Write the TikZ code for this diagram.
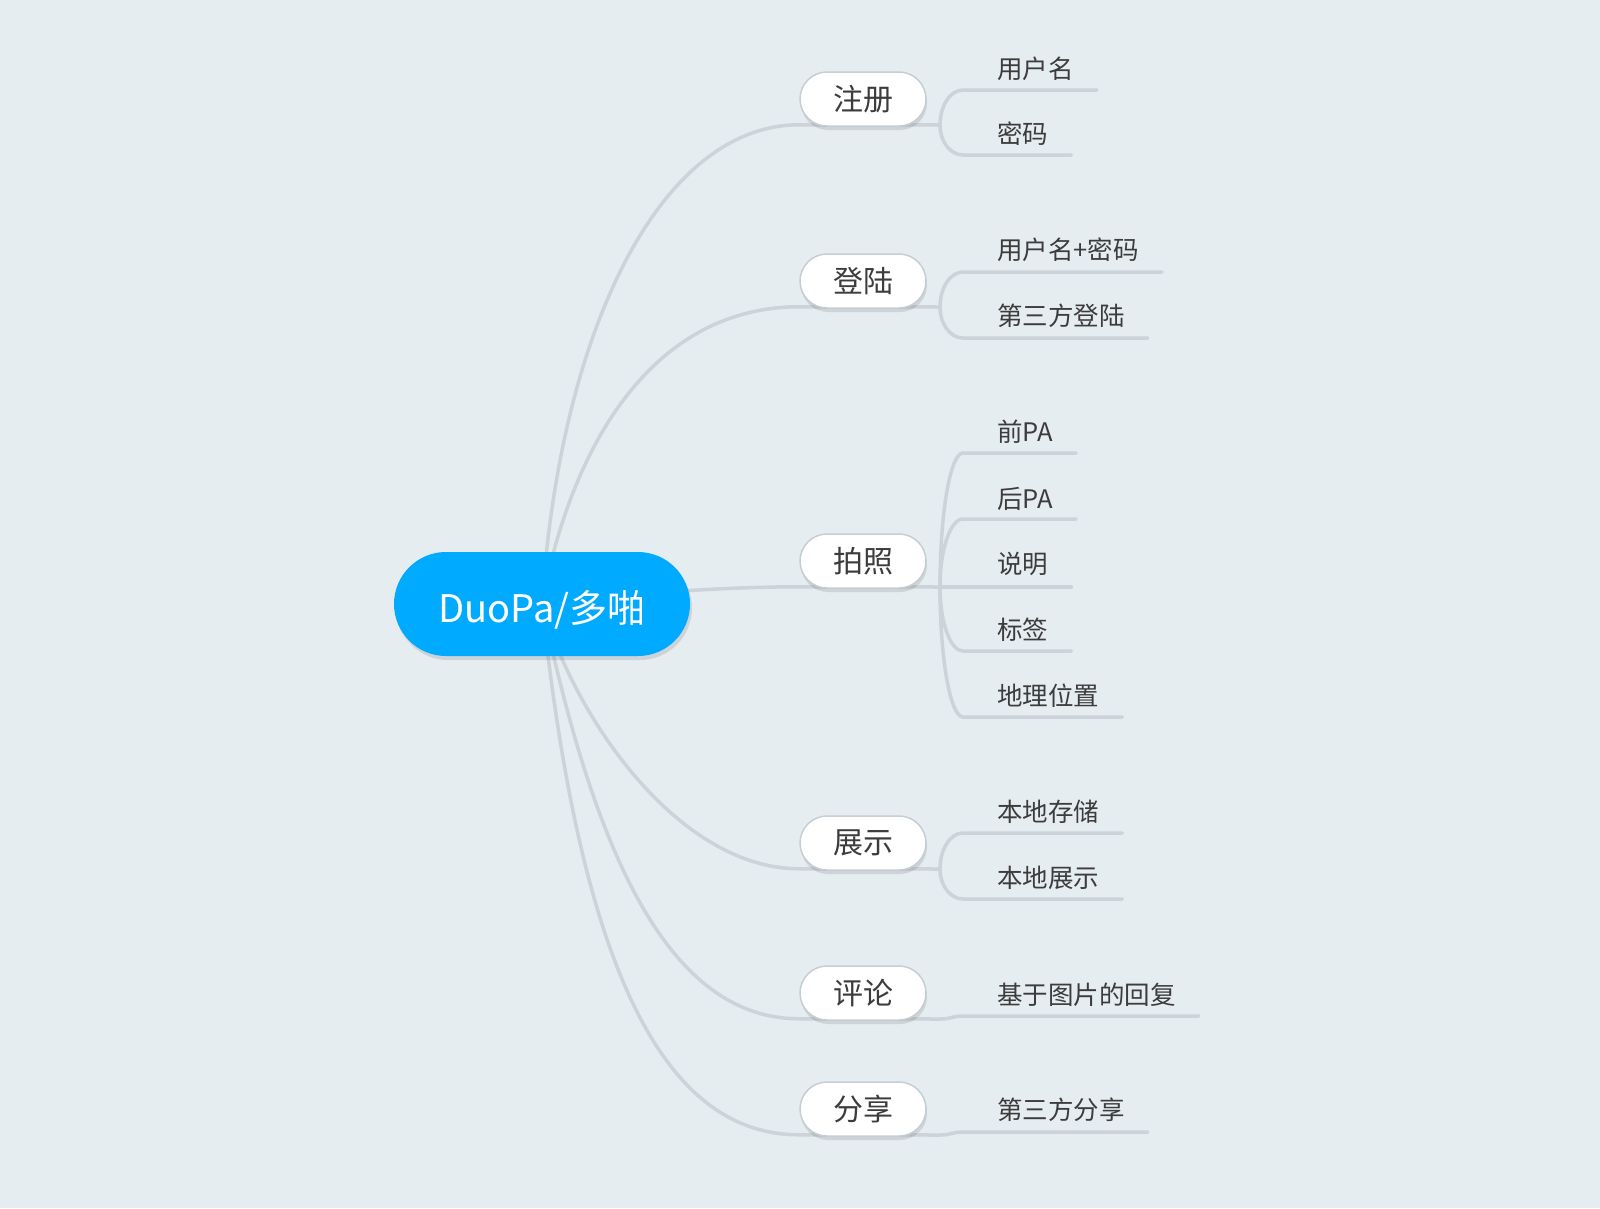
\documentclass[tikz,border=0pt]{standalone}
\usepackage{fontspec}
\setmainfont{Noto Sans CJK SC}
\usetikzlibrary{shadows,backgrounds}
\definecolor{bgc}{HTML}{E6EDF1}
\definecolor{linec}{HTML}{CCD4D9}
\definecolor{borderc}{HTML}{C6CED3}
\definecolor{txtc}{HTML}{3C3C3C}
\definecolor{rootc}{HTML}{00AAFF}
\newcommand{\mmkid}[4]{\draw[conn] (#1) .. controls (940,{#2+0.5523*(#3-#2)}) and (950.3,#3) .. (963,#3) -- (#4.east |- 963,#3);}
\newcommand{\mmone}[4]{\draw[conn] (#1) .. controls (952,#2) and (951,#3) .. (963,#3) -- (#4.east |- 963,#3);}
\newcommand{\mmpad}{\rule{23pt}{0pt}}
\begin{document}
\begin{tikzpicture}[x=1pt,y=-1pt,
  conn/.style={draw=linec, line width=3.5pt, line cap=round},
  rootbox/.style={fill=rootc, rounded corners=52pt, minimum width=296pt, minimum height=104pt, inner sep=0pt,
    font=\fontsize{38}{44}\selectfont, text=white, text height=38pt, text depth=1.6pt,
    drop shadow={shadow xshift=2pt, shadow yshift=-4pt, opacity=0.16, fill=black!70}},
  mainbox/.style={draw=borderc, line width=1.5pt, fill=white, rounded corners=27pt, minimum width=126pt, minimum height=54pt, inner sep=0pt,
    font=\fontsize{30}{36}\selectfont, text=txtc,
    drop shadow={shadow xshift=1pt, shadow yshift=-4pt, opacity=0.16, fill=black!70}},
  leaf/.style={anchor=west, inner sep=0pt, font=\fontsize{25.5}{30}\selectfont, text=txtc}]
\useasboundingbox (0,0) rectangle (1600,1208);

% nodes
\node[rootbox] (root) at (542,604) {DuoPa/多啪};
\node[mainbox] (n1) at (863,99) {注册};
\node[mainbox] (n2) at (863,281) {登陆};
\node[mainbox] (n3) at (863,561) {拍照};
\node[mainbox] (n4) at (863,843) {展示};
\node[mainbox] (n5) at (863,993) {评论};
\node[mainbox] (n6) at (863,1109) {分享};

\node[leaf] (l11) at (997,69) {用户名\mmpad};
\node[leaf] (l12) at (997,134) {密码\mmpad};
\node[leaf] (l21) at (997,250) {用户名+密码\mmpad};
\node[leaf] (l22) at (997,316) {第三方登陆\mmpad};
\node[leaf] (l31) at (997,432) {前PA\mmpad};
\node[leaf] (l32) at (997,499) {后PA\mmpad};
\node[leaf] (l33) at (997,564) {说明\mmpad};
\node[leaf] (l34) at (997,630) {标签\mmpad};
\node[leaf] (l35) at (997,696) {地理位置\mmpad};
\node[leaf] (l41) at (997,812) {本地存储\mmpad};
\node[leaf] (l42) at (997,878) {本地展示\mmpad};
\node[leaf] (l51) at (997,995) {基于图片的回复\mmpad};
\node[leaf] (l61) at (997,1110) {第三方分享\mmpad};

\coordinate (b1) at (940,125);
\coordinate (b2) at (940,307);
\coordinate (b3) at (940,587);
\coordinate (b4) at (940,869);
\coordinate (b5) at (940,1019);
\coordinate (b6) at (940,1135);

\begin{scope}[on background layer]
\fill[bgc] (0,0) rectangle (1600,1208);
\draw[conn] (root.center) .. controls (560,330) and (660,125) .. ([yshift=2pt]n1.south west) -- (b1);
\draw[conn] (root.center) .. controls (570,450) and (650,307) .. ([yshift=2pt]n2.south west) -- (b2);
\draw[conn] (root.center) .. controls (620,594) and (720,587) .. ([yshift=2pt]n3.south west) -- (b3);
\draw[conn] (root.center) .. controls (575,720) and (680,869) .. ([yshift=2pt]n4.south west) -- (b4);
\draw[conn] (root.center) .. controls (590,830) and (660,1019) .. ([yshift=2pt]n5.south west) -- (b5);
\draw[conn] (root.center) .. controls (580,960) and (660,1135) .. ([yshift=2pt]n6.south west) -- (b6);

\mmkid{b1}{125}{90}{l11}
\mmkid{b1}{125}{155}{l12}
\mmkid{b2}{307}{272}{l21}
\mmkid{b2}{307}{338}{l22}
\mmkid{b3}{587}{453}{l31}
\mmkid{b3}{587}{519}{l32}
\mmkid{b3}{587}{587}{l33}
\mmkid{b3}{587}{651}{l34}
\mmkid{b3}{587}{717}{l35}
\mmkid{b4}{869}{833}{l41}
\mmkid{b4}{869}{899}{l42}
\mmone{b5}{1019}{1016}{l51}
\mmone{b6}{1135}{1132}{l61}
\end{scope}
\end{tikzpicture}
\end{document}
